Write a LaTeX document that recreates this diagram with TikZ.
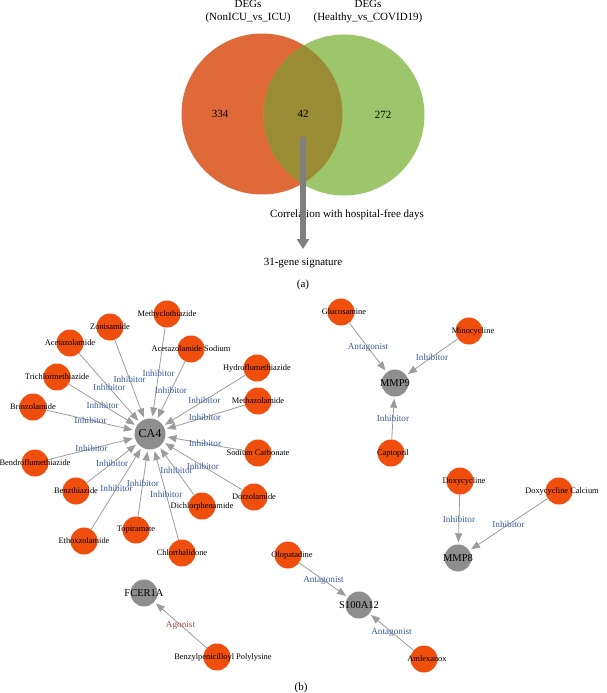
\documentclass[tikz,border=0pt]{standalone}
\usepackage{fontspec}
\setmainfont{Liberation Serif}
\usetikzlibrary{arrows.meta,positioning}
\definecolor{vennorange}{HTML}{E0693A}
\definecolor{venngreen}{HTML}{9DC66B}
\definecolor{vennolive}{HTML}{9A8B35}
\definecolor{drugorange}{HTML}{EF4E0C}
\definecolor{genegray}{HTML}{8E8E8E}
\definecolor{edgegray}{HTML}{9C9C9C}
\definecolor{relblue}{HTML}{3A5A98}
\definecolor{relred}{HTML}{A24A4A}
\definecolor{flowgray}{HTML}{7F7F7F}

\begin{document}
\begin{tikzpicture}[x=1pt, y=-1pt, >={Triangle[length=9pt,width=7pt]}]
        \tikzstyle{drug}=[circle, fill=drugorange, minimum size=27pt, inner sep=0pt]
        \tikzstyle{gene}=[circle, fill=genegray, minimum size=27pt, inner sep=0pt]
        \tikzstyle{drugtext}=[font=\fontsize{8.4}{9}\selectfont, text=black]
        \tikzstyle{genetext}=[font=\fontsize{10.5}{12}\selectfont, text=black]
        \tikzstyle{edge}=[->, draw=edgegray, line width=0.8pt, shorten >=2pt]
        \tikzstyle{rel}=[midway, font=\fontsize{9.2}{10}\selectfont, text=relblue, inner sep=0pt]
        \tikzstyle{venntext}=[font=\fontsize{11}{13}\selectfont, align=center]
        \useasboundingbox (0,0) rectangle (606,693);
        % (a) Venn diagram
        \fill[vennorange] (262,114) circle[radius=80.5];
        \fill[venngreen] (344,115) circle[radius=80.5];
        \begin{scope}
            \clip (262,114) circle[radius=80.5];
            \fill[vennolive] (344,115) circle[radius=80.5];
        \end{scope}
        \node[venntext] (setA) at (248,11.5) {DEGs\\(NonICU\_vs\_ICU)};
        \node[venntext] (setB) at (368,11.5) {DEGs\\(Healthy\_vs\_COVID19)};
        \node[venntext] (onlyA) at (220,114) {334};
        \node[venntext] (both) at (303,114) {42};
        \node[venntext] (onlyB) at (383,115) {272};
        \node[venntext] (corr) at (347,215) {Correlation with hospital-free days};
        \node[venntext] (sig) at (303,263) {31-gene signature};
        \node[venntext] (capA) at (303,285) {(a)};
        \coordinate (flowtop) at (303,137);
        \coordinate (flowend) at (303,249);
        \draw[flowgray, line width=6pt, -{Triangle[length=10pt,width=12pt]}] (flowtop) -- (flowend);
        % (b) drug--gene network
        \node[gene, minimum size=31pt, label={[genetext, font=\fontsize{12}{14}\selectfont]center:CA4}] (CA4) at (150,434) {};
        \foreach \drug/\px/\py [count=\i] in {Methyclothiazide/167/314, Zonisamide/110/327, Acetazolamide/70/343,
            Acetazolamide Sodium/191/349, Hydroflumethiazide/257/368, Trichlormethiazide/57/377,
            Methazolamide/258/401, Brinzolamide/33/407, Sodium Carbonate/258/453,
            Bendroflumethiazide/35/463, Benzthiazide/76/491, Dorzolamide/254/497,
            Dichlorphenamide/202/506, Topiramate/136/530, Ethoxzolamide/84/541, Chlorthalidone/182/553} {
            \node[drug, label={[drugtext]center:\drug}] (ca\i) at (\px,\py) {};
            \draw[edge] (ca\i) -- node[rel] {Inhibitor} (CA4);
        }
        \node[gene, label={[genetext]center:MMP9}] (MMP9) at (395,383) {};
        \node[drug, label={[drugtext, xshift=3pt]center:Glucosamine}] (glucosamine) at (341,312) {};
        \node[drug, label={[drugtext, xshift=4pt]center:Minocycline}] (minocycline) at (469,331) {};
        \node[drug, label={[drugtext, xshift=2pt]center:Captopril}] (captopril) at (391,453) {};
        \draw[edge] (glucosamine) -- node[rel] {Antagonist} (MMP9);
        \draw[edge] (minocycline) -- node[rel] {Inhibitor} (MMP9);
        \draw[edge] (captopril) -- node[rel] {Inhibitor} (MMP9);
        \node[gene, label={[genetext]center:MMP8}] (MMP8) at (458,558) {};
        \node[drug, label={[drugtext, xshift=4pt]center:Doxycycline}] (doxy) at (460,481) {};
        \node[drug, label={[drugtext, xshift=3pt]center:Doxycycline Calcium}] (doxycalcium) at (559,491) {};
        \draw[edge] (doxy) -- node[rel] {Inhibitor} (MMP8);
        \draw[edge] (doxycalcium) -- node[rel] {Inhibitor} (MMP8);
        \node[gene, label={[genetext]center:S100A12}] (S100A12) at (359,605) {};
        \node[drug, label={[drugtext, xshift=4pt]center:Olopatadine}] (olopatadine) at (288,555) {};
        \node[drug, label={[drugtext, xshift=3pt]center:Amlexanox}] (amlexanox) at (424,659) {};
        \draw[edge] (olopatadine) -- node[rel] {Antagonist} (S100A12);
        \draw[edge] (amlexanox) -- node[rel] {Antagonist} (S100A12);
        \node[gene, label={[genetext]center:FCER1A}] (FCER1A) at (144,593) {};
        \node[drug, label={[drugtext, xshift=6pt]center:Benzylpenicilloyl Polylysine}] (benzyl) at (217,657) {};
        \draw[edge] (benzyl) -- node[rel, text=relred] {Agonist} (FCER1A);
        \node[venntext] (capB) at (301,688) {(b)};
    \end{tikzpicture}
\end{document}
